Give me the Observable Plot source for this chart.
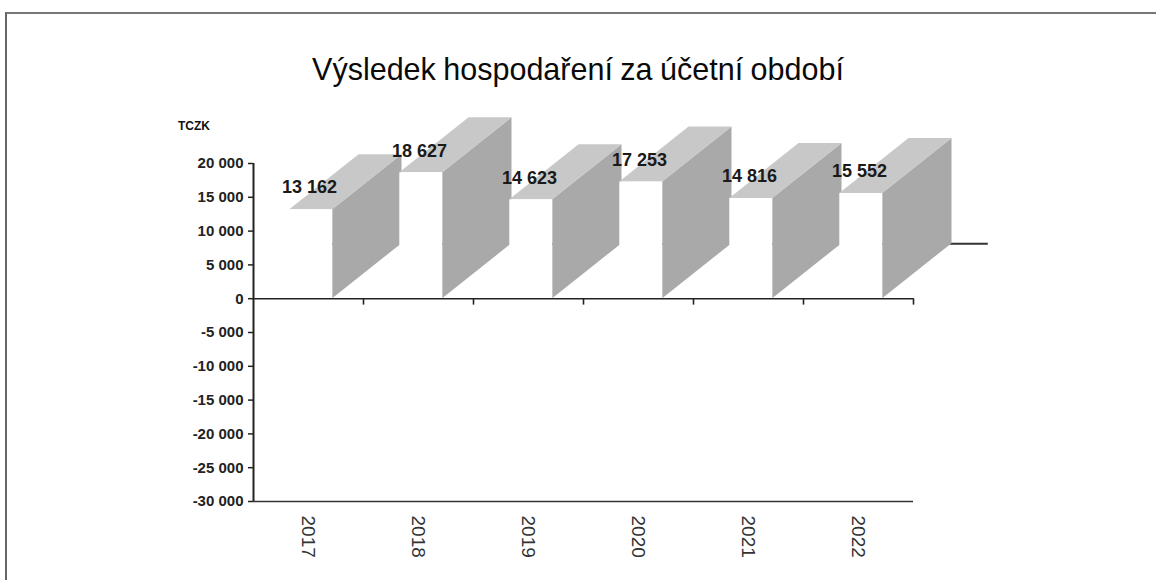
<!DOCTYPE html>
<html>
<head>
<meta charset="utf-8">
<script src="https://cdn.jsdelivr.net/npm/d3@7"></script>
<script src="https://cdn.jsdelivr.net/npm/@observablehq/plot@0.6"></script>
<style>
  body { margin: 0; background: #fff; }
  #wrap { position: relative; width: 1156px; height: 580px; overflow: hidden; font-family: "Liberation Sans", Arial, sans-serif; background: #fff; }
  #frame { position: absolute; left: 5px; top: 12px; width: 1300px; height: 700px; border-top: 2px solid #777; border-left: 2px solid #666; }
  #chart { position: absolute; left: 0; top: 0; }
  #title { position: absolute; left: 0; width: 1156px; top: 52px; text-align: center; font-size: 30.5px; color: #0a0a0a; white-space: nowrap; word-spacing: -1px; }
  #unit { position: absolute; left: 178px; top: 119px; font-size: 12px; font-weight: bold; color: #111; }
</style>
</head>
<body>
<div id="wrap">
  <div id="frame"></div>
  <div id="chart"></div>
  <div id="title"></div>
  <div id="unit"></div>
</div>
<script>
// ---- data ----
const titleText = "Výsledek hospodaření za účetní období";
const unitLabel = "TCZK";
const years = ["2017", "2018", "2019", "2020", "2021", "2022"];
const values = [13162, 18627, 14623, 17253, 14816, 15552];
const yTicks = [20000, 15000, 10000, 5000, 0, -5000, -10000, -15000, -20000, -25000, -30000];

document.getElementById("title").textContent = titleText;
document.getElementById("unit").textContent = unitLabel;

const fmt = d3.formatLocale({decimal: ",", thousands: " ", grouping: [3], currency: ["", ""], minus: "-"}).format(",d");

// 3D look (band units on x, value units on y)
const frontL = 0.33, frontR = 0.72, depthX = 0.63, depthY = 8140;

const bars = years.map((year, i) => ({year, i, value: values[i]}));
const topFaces = bars.flatMap(b => [
  {year: b.year, y: b.value, x1: b.i + frontL, x2: b.i + frontR},
  {year: b.year, y: b.value + depthY, x1: b.i + frontL + depthX, x2: b.i + frontR + depthX}
]);
const sideFaces = bars.flatMap(b => [
  {year: b.year, x: b.i + frontR, y1: 0, y2: b.value},
  {year: b.year, x: b.i + frontR + depthX, y1: depthY, y2: b.value + depthY}
]);
const yMin = d3.min(yTicks), yMax = d3.max(yTicks);

const chart = Plot.plot({
  width: 1156,
  height: 580,
  marginLeft: 253,
  marginRight: 243,
  marginTop: 163,
  marginBottom: 79,
  style: {fontFamily: "'Liberation Sans', Arial, sans-serif", background: "transparent", overflow: "visible"},
  x: {type: "linear", domain: [0, years.length], axis: null},
  y: {domain: [yMin, yMax]},
  marks: [
    // back floor line at zero
    Plot.ruleY([depthY], {x1: depthX, x2: years.length + depthX + 0.05, stroke: "#333", strokeWidth: 2}),
    // side faces
    Plot.areaY(sideFaces, {x: "x", y1: "y1", y2: "y2", z: "year", fill: "#a9a9a9"}),
    // top faces
    Plot.areaX(topFaces, {y: "y", x1: "x1", x2: "x2", z: "year", fill: "#c8c8c8"}),
    // front faces (white)
    Plot.rectY(bars, {x1: d => d.i + frontL, x2: d => d.i + frontR, y1: 0, y2: "value", fill: "white"}),
    // axes
    Plot.ruleX([0], {y1: yMin, y2: yMax, stroke: "#222", strokeWidth: 2}),
    Plot.ruleY([0], {x1: 0, x2: years.length, stroke: "#222", strokeWidth: 1.6}),
    Plot.ruleY([yMin], {x1: 0, x2: years.length, stroke: "#333", strokeWidth: 1.6}),
    Plot.ruleX(d3.range(1, years.length + 1), {y1: 0, y2: -950, stroke: "#222", strokeWidth: 1.6}),
    Plot.axisY(yTicks, {tickSize: 5, tickPadding: 5, tickFormat: fmt, fontSize: 15, fontWeight: "bold", fill: "#222", stroke: "#222", strokeWidth: 1.5, label: null}),
    // value labels
    Plot.text(bars, {x: d => d.i + 0.51, y: "value", text: d => fmt(d.value), dy: -22, fontSize: 18, fontWeight: "bold", fill: "#1a1a1a"}),
    // year labels (rotated)
    Plot.text(bars, {x: d => d.i + 0.5, y: yMin, text: "year", rotate: 90, textAnchor: "start", dy: 14, fontSize: 19, fill: "#333"})
  ]
});
document.getElementById("chart").appendChild(chart);
</script>
</body>
</html>
